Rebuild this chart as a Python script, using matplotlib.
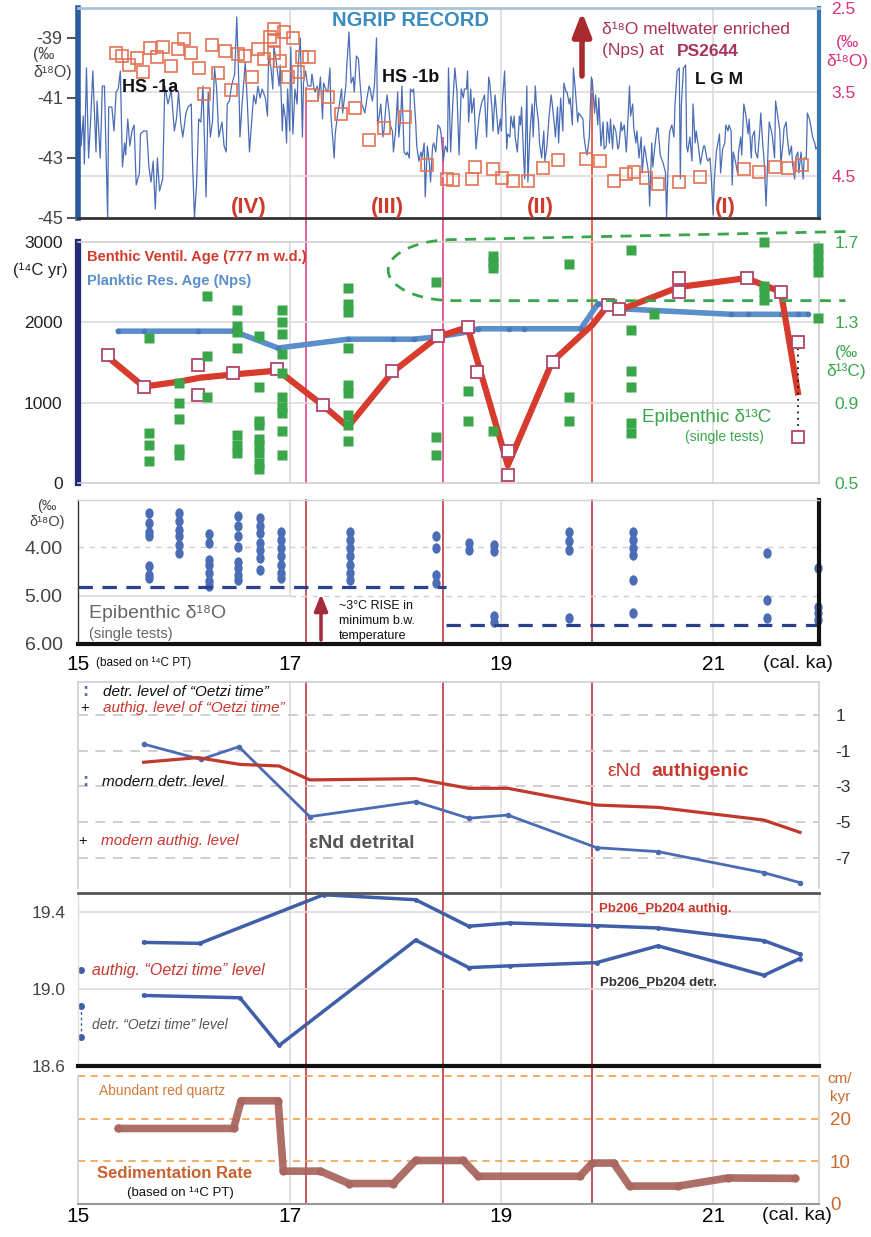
import matplotlib
matplotlib.use("Agg")
import numpy as np
import matplotlib.pyplot as plt
from matplotlib.lines import Line2D
from matplotlib.path import Path
from matplotlib.patches import PathPatch
from matplotlib.transforms import blended_transform_factory

plt.rcParams['font.family'] = ['Liberation Sans', 'DejaVu Sans']
plt.rcParams['axes.unicode_minus'] = False

# ---------------------------------------------------------------- data
# NGRIP d18O (age ka, permil)
ngrip = [(15.02,-41.6),(15.03,-42.6),(15.05,-41.6),(15.06,-43.2),(15.08,-40.0),(15.10,-43.0),(15.12,-41.7),(15.14,-40.1),
 (15.17,-42.8),(15.18,-41.1),(15.21,-43.0),(15.23,-40.6),(15.25,-40.6),(15.28,-45.0),(15.29,-41.3),(15.32,-41.3),(15.34,-42.1),
 (15.36,-40.8),(15.38,-40.7),(15.40,-40.1),(15.42,-43.3),(15.44,-42.5),(15.45,-42.9),(15.47,-41.7),(15.49,-42.6),(15.51,-42.1),
 (15.53,-41.9),(15.55,-43.9),(15.58,-43.5),(15.59,-42.2),(15.62,-42.1),(15.65,-42.1),(15.67,-43.3),(15.69,-43.8),(15.71,-43.1),
 (15.73,-44.7),(15.75,-43.0),(15.77,-44.1),(15.80,-43.7),(15.82,-40.6),(15.85,-41.2),(15.87,-40.9),(15.88,-40.7),(15.91,-42.1),
 (15.93,-41.7),(15.95,-40.8),(15.97,-41.8),(15.99,-42.3),(16.02,-41.5),(16.04,-41.3),(16.07,-41.2),(16.08,-42.9),(16.10,-45.0),
 (16.12,-43.9),(16.14,-41.7),(16.16,-41.8),(16.18,-40.6),(16.21,-44.3),(16.23,-40.8),(16.25,-42.3),(16.27,-41.8),(16.29,-40.0),
 (16.31,-40.7),(16.33,-42.3),(16.36,-41.8),(16.38,-42.6),(16.40,-42.8),(16.41,-41.2),(16.43,-41.1),(16.45,-40.6),(16.48,-40.2),
 (16.50,-38.3),(16.52,-40.6),(16.53,-42.3),(16.55,-41.2),(16.58,-39.8),(16.60,-41.2),(16.62,-42.8),(16.64,-41.8),(16.66,-40.9),
 (16.68,-41.2),(16.70,-40.6),(16.72,-41.0),(16.74,-40.7),(16.77,-41.0),
 (16.79,-41.6),(16.80,-39.6),(16.82,-39.9),(16.84,-40.7),(16.85,-39.3),(16.87,-39.7),(16.90,-40.6),(16.91,-39.9),(16.93,-42.1),
 (16.94,-41.2),(16.96,-41.7),(16.97,-42.5),(16.98,-40.7),(17.00,-42.1),(17.01,-39.3),(17.03,-42.2),(17.05,-40.7),(17.07,-41.2),
 (17.08,-39.9),(17.10,-39.0),(17.12,-42.3),(17.13,-40.5),(17.15,-40.1),(17.17,-40.6),(17.20,-40.6),(17.21,-40.2),(17.23,-40.7),
 (17.24,-40.8),(17.26,-40.6),(17.27,-41.1),(17.29,-40.3),(17.31,-41.7),(17.32,-40.5),(17.34,-40.7),(17.36,-40.8),(17.38,-40.0),
 (17.39,-41.6),(17.42,-43.0),(17.43,-42.2),(17.45,-41.6),(17.47,-41.2),(17.49,-40.7),(17.50,-41.5),(17.53,-40.6),(17.54,-39.9),
 (17.56,-38.8),(17.58,-40.5),(17.60,-40.3),(17.61,-40.8),(17.63,-39.6),(17.65,-39.7),(17.66,-40.3),(17.68,-41.2),(17.69,-41.3),
 (17.71,-41.5),(17.73,-41.0),(17.75,-40.6),(17.76,-40.7),(17.78,-41.1),(17.80,-40.6),(17.82,-39.0),(17.83,-41.9),(17.85,-41.5),
 (17.86,-41.2),(17.88,-42.3),(17.89,-42.1),(17.91,-41.2),(17.92,-40.9),(17.94,-41.5),(17.95,-41.9),(17.97,-42.1),(17.98,-42.8),
 (18.00,-42.1),(18.02,-40.8),(18.03,-42.3),(18.05,-41.6),(18.06,-40.6),(18.08,-42.8),(18.10,-42.9),(18.11,-42.8),(18.13,-43.0),
 (18.14,-40.7),(18.16,-40.8),(18.17,-40.7),(18.19,-41.8),(18.20,-42.6),(18.22,-43.1),(18.24,-42.8),(18.25,-43.0),(18.27,-42.5),
 (18.28,-44.3),(18.30,-42.6),(18.32,-43.2),(18.33,-43.8),(18.35,-42.6),(18.36,-42.5),(18.38,-42.8),(18.40,-41.9),(18.42,-42.0),
 (18.43,-42.2),(18.45,-43.1),(18.47,-42.6),(18.49,-42.8),
 (18.50,-40.0),(18.52,-42.8),(18.54,-41.2),(18.56,-40.0),(18.58,-40.8),(18.59,-41.9),(18.60,-42.9),(18.62,-40.7),(18.64,-41.0),
 (18.65,-40.7),(18.67,-40.7),(18.68,-40.1),(18.69,-41.8),(18.71,-40.7),(18.72,-41.5),(18.74,-41.0),(18.76,-42.7),(18.77,-42.3),
 (18.79,-41.6),(18.81,-41.2),(18.83,-41.0),(18.84,-40.9),(18.86,-42.3),(18.88,-40.3),(18.89,-40.5),(18.91,-41.3),(18.92,-42.1),
 (18.94,-40.9),(18.95,-41.3),(18.97,-42.2),(18.99,-41.7),(19.00,-42.1),(19.01,-41.1),(19.03,-40.1),(19.05,-42.7),(19.06,-42.2),
 (19.08,-42.3),(19.09,-41.6),(19.11,-42.0),(19.12,-41.6),(19.13,-42.3),(19.15,-42.8),(19.17,-41.6),(19.18,-41.9),(19.19,-41.3),
 (19.21,-43.0),(19.22,-43.7),(19.24,-40.6),(19.25,-43.8),(19.27,-42.1),(19.29,-41.2),(19.30,-42.3),(19.32,-40.6),(19.33,-41.2),
 (19.35,-41.8),(19.36,-42.5),(19.38,-43.0),(19.40,-42.1),(19.41,-43.1),(19.43,-42.6),(19.45,-41.6),(19.47,-40.9),(19.48,-41.2),
 (19.50,-41.9),(19.51,-42.3),(19.53,-41.3),(19.54,-42.5),(19.56,-41.0),(19.58,-42.1),(19.59,-40.5),(19.61,-40.8),(19.62,-40.8),
 (19.64,-41.2),(19.65,-41.0),(19.67,-41.9),(19.68,-40.0),(19.70,-40.8),(19.72,-41.8),(19.73,-41.5),(19.75,-41.6),(19.77,-41.7),
 (19.78,-42.3),(19.80,-42.8),(19.81,-42.9),(19.83,-42.3),(19.85,-40.3),(19.86,-40.5),(19.88,-41.5),(19.89,-40.9),(19.91,-41.9),
 (19.92,-41.0),(19.94,-42.6),(19.96,-41.8),(19.97,-42.7),(19.99,-42.6),(20.00,-41.8),(20.02,-42.5),(20.03,-41.7),(20.05,-42.7),
 (20.06,-41.9),(20.08,-42.1),(20.10,-42.7),(20.11,-42.6),(20.13,-41.8),(20.14,-42.1),(20.16,-41.9),(20.18,-42.8),(20.19,-42.1),
 (20.21,-40.6),(20.22,-41.6),
 (20.24,-41.2),(20.25,-42.0),(20.27,-42.5),(20.28,-42.1),(20.30,-43.0),(20.32,-42.3),(20.33,-43.5),(20.35,-42.6),(20.36,-42.8),
 (20.39,-43.5),(20.40,-44.6),(20.42,-42.5),(20.43,-43.3),(20.45,-42.6),(20.47,-42.0),(20.48,-42.0),(20.50,-42.9),(20.52,-43.1),
 (20.53,-43.2),(20.55,-43.5),(20.56,-45.0),(20.58,-42.6),(20.59,-42.1),(20.61,-41.9),(20.63,-42.3),(20.64,-41.2),(20.66,-40.1),
 (20.68,-40.0),(20.69,-43.7),(20.70,-41.2),(20.72,-40.0),(20.74,-39.9),(20.75,-42.6),(20.76,-42.8),(20.78,-42.3),(20.80,-43.1),
 (20.81,-41.2),(20.83,-42.5),(20.84,-42.1),(20.86,-42.6),(20.88,-43.2),(20.89,-43.0),(20.91,-42.6),(20.92,-42.6),(20.94,-43.0),
 (20.95,-43.1),(20.97,-43.0),(20.98,-43.5),(21.00,-44.9),(21.01,-43.8),(21.03,-42.8),(21.04,-42.6),(21.06,-42.2),(21.07,-43.5),
 (21.09,-42.7),(21.11,-42.5),(21.12,-41.9),(21.14,-42.1),(21.15,-41.9),(21.17,-42.1),(21.18,-43.9),(21.19,-42.8),(21.21,-43.1),
 (21.23,-43.5),(21.24,-42.8),(21.26,-42.3),(21.27,-42.9),(21.29,-41.2),(21.31,-41.6),(21.33,-42.2),(21.34,-41.7),(21.36,-43.0),
 (21.37,-42.3),(21.39,-42.1),(21.40,-42.8),(21.42,-43.0),(21.44,-42.1),(21.45,-41.5),(21.47,-42.6),(21.48,-43.0),(21.50,-44.6),
 (21.52,-42.6),(21.53,-41.8),(21.55,-42.1),(21.56,-42.3),(21.58,-43.0),(21.59,-41.1),(21.61,-41.6),(21.63,-42.1),(21.64,-43.2),
 (21.66,-42.5),(21.67,-42.0),(21.69,-41.8),(21.70,-42.3),(21.72,-42.9),(21.74,-42.6),(21.75,-43.2),(21.77,-43.7),(21.78,-43.0),
 (21.80,-42.8),(21.81,-43.5),(21.83,-42.8),(21.85,-43.7),(21.86,-43.0),(21.88,-43.0),(21.89,-41.5),(21.91,-41.7),(21.93,-42.1),
 (21.94,-42.3),(21.96,-42.5),(21.97,-42.7),(21.99,-42.6)]

# PS2644 planktic (Nps) d18O
ps_age = [15.36,15.42,15.48,15.56,15.61,15.68,15.75,15.80,15.88,15.94,16.00,16.07,16.14,16.19,16.27,16.32,16.39,16.45,
          16.51,16.58,16.64,16.70,16.76,16.81,16.85,16.85,16.85,16.91,16.95,16.98,17.03,17.08,17.12,17.18,17.21,17.36,
          17.48,17.62,17.75,17.89,18.09,18.30,18.49,18.54,18.72,18.75,18.92,19.01,19.11,19.25,19.39,19.53,19.80,19.93,
          20.06,20.18,20.25,20.37,20.48,20.68,20.88,21.29,21.43,21.58,21.71,21.84]
ps_d18o = [3.04,3.07,3.18,3.10,3.26,2.98,3.08,2.96,3.19,2.99,2.87,3.04,3.21,3.52,2.94,3.27,3.01,3.48,
           3.05,3.07,3.32,2.99,3.11,2.85,2.75,2.88,3.04,3.13,2.79,3.32,2.86,3.26,3.08,3.08,3.54,3.56,
           3.76,3.69,4.07,3.93,3.80,4.37,4.54,4.55,4.54,4.39,4.42,4.52,4.56,4.56,4.40,4.31,4.30,4.32,
           4.56,4.48,4.45,4.52,4.60,4.57,4.51,4.42,4.45,4.39,4.40,4.37]

# Planktic reservoir age and benthic ventilation age (14C yr)
plank_age = [15.38,15.62,16.13,16.47,16.89,17.55,17.98,18.17,18.40,18.68,18.78,19.07,19.21,19.75,19.91,20.03,20.11,
             21.17,21.33,21.64,21.80,21.90]
plank_res = [1890,1890,1890,1890,1680,1790,1790,1790,1820,1880,1920,1920,1920,1920,2230,2220,2170,2100,2100,2100,2100,2100]
benth_age = [15.28,15.62,15.95,16.15,16.46,16.89,17.31,17.55,17.97,18.40,18.68,19.06,19.48,19.86,20.01,20.11,20.68,
             21.31,21.64,21.80]
benth_vent = [1570,1200,1260,1310,1350,1400,970,700,1380,1820,1940,220,1510,1970,2220,2150,2440,2550,2380,1130]
benth_sq_age = [15.28,15.62,16.13,16.13,16.46,16.88,17.31,17.97,18.40,18.68,18.77,19.06,19.06,19.49,20.01,20.11,
                20.68,20.68,21.32,21.64,21.80,21.80]
benth_sq = [1594,1195,1469,1096,1370,1419,971,1394,1830,1942,1382,398,100,1506,2216,2166,2552,2378,2552,2378,1755,573]

# Epibenthic single tests
epi13_age = [15.67,15.95,16.22,16.50,16.71,16.93,17.55,18.38,18.68,18.92,19.64,20.22,20.44,21.48,21.99]
epi_d13c = [[1.22,0.75,0.69,0.61],[1.00,0.90,0.82,0.67,0.64],[1.43,1.13,0.93],
            [1.36,1.28,1.25,1.17,0.74,0.69,0.65],[1.23,0.98,0.81,0.79,0.72,0.69,0.65,0.60,0.57],
            [1.36,1.30,1.24,1.14,1.05,0.93,0.88,0.85,0.76,0.64],[1.47,1.39,1.35,1.17,0.99,0.95,0.84,0.79,0.71],
            [1.50,0.73,0.64],[0.96,0.81],[1.63,1.60,1.57,0.76],[1.59,0.93,0.81],[1.66,1.26,1.06,0.98,0.80,0.75],
            [1.34],[1.70,1.48,1.45,1.41],[1.67,1.63,1.59,1.55,1.32]]
epi18_age = [15.67,15.95,16.24,16.51,16.72,16.92,17.57,18.38,18.69,18.93,19.64,20.24,21.51,21.99]
epi_d18o = [[3.30,3.50,3.68,3.78,4.40,4.57,4.64],[3.30,3.47,3.64,3.78,3.95,4.12],[3.74,3.92,4.26,4.37,4.54,4.71,4.81],
            [3.37,3.57,3.78,3.99,4.30,4.43,4.57,4.68],[3.40,3.57,3.71,3.92,4.06,4.23,4.47],
            [3.68,3.85,4.02,4.19,4.37,4.54,4.64],[3.68,3.85,4.02,4.19,4.37,4.54,4.68],[3.78,4.02,4.57,4.74],
            [3.92,4.06],[3.95,4.09,5.43,5.54],[3.68,3.88,4.06,5.47],[3.68,3.85,4.02,4.16,4.68,5.37],
            [4.12,5.09,5.47],[4.43,5.23,5.37,5.50]]
min_d18o_levels = [(15.0, 18.48, 4.83), (18.48, 22.0, 5.61)]

# eNd
end_age = [15.62,16.16,16.52,17.19,18.19,18.69,19.06,19.90,20.48,21.48,21.82]
end_detr = [-0.63,-1.49,-0.78,-4.70,-3.86,-4.79,-4.61,-6.44,-6.66,-7.84,-8.40]
end_auth_age = [15.62,16.13,16.53,16.90,17.19,18.19,18.69,19.06,19.90,20.48,21.48,21.82]
end_auth = [-1.65,-1.39,-1.77,-1.86,-2.64,-2.57,-3.11,-3.11,-4.05,-4.18,-4.89,-5.58]

# Pb206/Pb204
pb_auth_age = [15.62,16.15,17.32,18.19,18.69,19.08,19.90,20.48,21.48,21.82]
pb_auth = [19.243,19.238,19.491,19.465,19.327,19.344,19.330,19.318,19.252,19.182]
pb_detr_age = [15.62,16.53,16.90,18.19,18.69,19.08,19.90,20.48,21.48,21.82]
pb_detr = [18.967,18.955,18.707,19.255,19.112,19.121,19.138,19.225,19.072,19.159]
oetzi_age = 15.03
oetzi_pb_auth = 19.10
oetzi_pb_detr = [18.91, 18.75]

# Sedimentation rate (cm/kyr)
sed_age = [15.38,16.47,16.54,16.89,16.94,17.29,17.56,17.98,18.19,18.64,18.78,19.74,19.86,20.06,20.21,20.67,21.14,21.77]
sed_rate = [17.7,17.7,24.2,24.2,7.7,7.7,4.8,4.8,10.2,10.2,6.5,6.5,9.6,9.6,4.2,4.2,6.1,6.0]

events = [17.15, 18.45, 19.86]

# ---------------------------------------------------------------- layout helpers
FW, FH = 871.0, 1237.0
GRID = '#dcdcdc'
fig = plt.figure(figsize=(FW / 100, FH / 100), dpi=100)


def panel(top, bot, grid=(17, 19, 21)):
    ax = fig.add_axes([78 / FW, 1 - bot / FH, 741 / FW, (bot - top) / FH])
    ax.set_facecolor('none')
    ax.set_xlim(15, 22)
    ax.set_xticks([])
    for g in grid:
        ax.axvline(g, color=GRID, lw=1.2, zorder=0)
    return ax


def spines(ax, **spec):
    for side, sty in spec.items():
        if sty is None:
            ax.spines[side].set_visible(False)
        else:
            ax.spines[side].set_color(sty[0])
            ax.spines[side].set_linewidth(sty[1])


def txt(x, y, s, **kw):
    kw.setdefault('va', 'center')
    fig.text(x / FW, 1 - y / FH, s, **kw)


def arrow(x, y0, y1, color, lw, hw, hl):
    fig.add_artist(plt.matplotlib.patches.FancyArrowPatch(
        (x / FW, 1 - y0 / FH), (x / FW, 1 - y1 / FH), transform=fig.transFigure,
        arrowstyle='-|>,head_width=%s,head_length=%s' % (hw, hl), mutation_scale=10,
        color=color, lw=lw, shrinkA=0, shrinkB=0))


# ---------------------------------------------------------------- panel 1: NGRIP
ax1 = panel(8, 218)
ax1.set_ylim(-45, -38)
for r in (3.5, 4.5):
    ax1.axhline(-38 - (r - 2.5) * 2.8, color=GRID, lw=1.2, zorder=0)
ax1.plot([p[0] for p in ngrip], [p[1] for p in ngrip], color='#4a6db5', lw=0.9)
ax1.set_yticks([-45, -43, -41, -39])
ax1.tick_params(axis='y', length=8, width=1.2, color='#333', labelsize=13, labelcolor='#444', pad=3)
spines(ax1, left=('#2b5b9b', 4), right=('#3b77b4', 3), top=('#a7c4d6', 2), bottom=('#333333', 2))
ax1r = ax1.twinx()
ax1r.set_ylim(5.0, 2.5)
ax1r.set_yticks([2.5, 3.5, 4.5])
ax1r.tick_params(axis='y', length=0, pad=9, labelsize=12.5, labelcolor='#d6307a')
for s in ax1r.spines.values():
    s.set_visible(False)
ax1r.plot(ps_age, ps_d18o, 's', ms=8, mfc='none', mec='#e27456', mew=1.2)

txt(33, 64, '(‰\nδ¹⁸O)', color='#444', fontsize=11.5, linespacing=1.25)
txt(847, 52, '(‰\nδ¹⁸O)', color='#d6307a', fontsize=12.5, ha='center', linespacing=1.25)
txt(410, 20, 'NGRIP RECORD', ha='center', color='#3a8bbf', fontsize=14.5, fontweight='bold')
txt(122, 87, 'HS -1a', fontsize=13, fontweight='bold', color='#111')
txt(382, 78, 'HS -1b', fontsize=13, fontweight='bold', color='#111')
txt(695, 80, 'L G M', fontsize=12.5, fontweight='bold', color='#111')
for lab, x in (('(IV)', 249), ('(III)', 387), ('(II)', 540), ('(I)', 725)):
    txt(x, 208, lab, ha='center', color='#cc3b2b', fontsize=16, fontweight='bold')
arrow(582, 76, 12, '#a82a2e', 4, 0.55, 1.4)
txt(602, 30, 'δ¹⁸O meltwater enriched', color='#a8325e', fontsize=12.5)
txt(602, 51, '(Nps) at', color='#a8325e', fontsize=12.5)
txt(677, 51, 'PS2644', color='#a8325e', fontsize=12.5, fontweight='bold')

# ---------------------------------------------------------------- panel 2: ventilation ages
ax2 = panel(242, 483)
ax2.set_ylim(0, 3000)
for v in (1000, 2000):
    ax2.axhline(v, color=GRID, lw=1.2, zorder=0)
ax2.set_yticks([0, 1000, 2000, 3000])
ax2.tick_params(axis='y', length=0, pad=11, labelsize=12.5, labelcolor='#222')
spines(ax2, left=('#232a78', 4.5), right=('#cfcfcf', 1.2), top=('#cfcfcf', 1.2), bottom=('#cfcfcf', 1.2))
ax2.plot(plank_age, plank_res, color='#5b8fcc', lw=4, solid_capstyle='round', zorder=2,
         marker='o', ms=4, mfc='#4a7abb', mec='none')
ax2.plot(benth_age, benth_vent, color='#d63b2b', lw=4.5, solid_joinstyle='round', zorder=3)
ax2.plot(benth_sq_age[-2:], benth_sq[-2:], ls=(0, (1, 2.5)), color='#111', lw=1.3, zorder=3)
ax2.plot(benth_sq_age, benth_sq, 's', ms=8, mfc='white', mec='#b2446a', mew=1.3, zorder=4)

# dashed envelope around the LGM d13C values
t = np.linspace(np.pi / 2, 3 * np.pi / 2, 40)
cap = np.column_stack([18.55 + 0.62 * np.cos(t), 2650 + 380 * np.sin(t)])
env = np.vstack([[22.25, 3130], cap, [22.25, 2270]])
ax2.add_patch(PathPatch(Path(env), fill=False, ec='#3aa64a', lw=2, ls=(0, (4, 3)), clip_on=False, zorder=5))

ax2r = ax2.twinx()
ax2r.set_ylim(0.5, 1.7)
ax2r.set_yticks([0.5, 0.9, 1.3, 1.7])
ax2r.tick_params(axis='y', length=0, pad=11, labelsize=12.5, labelcolor='#3aa64a')
for s in ax2r.spines.values():
    s.set_visible(False)
for a, vals in zip(epi13_age, epi_d13c):
    ax2r.plot([a] * len(vals), vals, 's', ms=7, color='#3aa64a', mec='none', clip_on=False)

txt(87, 257, 'Benthic Ventil. Age (777 m w.d.)', color='#d23b2c', fontsize=10.5, fontweight='bold')
txt(87, 281, 'Planktic Res. Age (Nps)', color='#5a8fcb', fontsize=10.5, fontweight='bold')
txt(13, 270, '(¹⁴C yr)', color='#222', fontsize=12)
txt(846, 362, '(‰\nδ¹³C)', color='#3aa64a', fontsize=12.5, ha='center', linespacing=1.25)
txt(642, 417, 'Epibenthic δ¹³C', color='#3aa64a', fontsize=13.5)
txt(724, 437, '(single tests)', color='#3aa64a', fontsize=10, ha='center')

# ---------------------------------------------------------------- panel 3: epibenthic d18O
ax3 = panel(500, 644, grid=(19, 21))
ax3.set_ylim(6.0, 3.03)
ax3.axvline(17, ymin=1 / 2.97, ymax=1, color=GRID, lw=1.2, zorder=0)
ax3.axhline(5.0, xmin=0, xmax=2 / 7, color=GRID, lw=1.2, zorder=0)
ax3.axhline(5.0, xmin=2 / 7, xmax=1, color='#cfcfcf', lw=1, ls=(0, (4, 4)), zorder=0)
ax3.axhline(4.0, color='#cfcfcf', lw=1, ls=(0, (4, 4)), zorder=0)
ell = Path.unit_circle().transformed(plt.matplotlib.transforms.Affine2D().scale(0.8, 1.0))
for a, vals in zip(epi18_age, epi_d18o):
    ax3.plot([a] * len(vals), vals, ls='none', marker=ell, ms=7.5, color='#4a6db5', mec='none', clip_on=False)
for x0, x1, lev in min_d18o_levels:
    ax3.plot([x0, x1], [lev, lev], color='#2b4190', lw=2.3, ls=(0, (4.5, 3)))
ax3.set_yticks([4, 5, 6])
ax3.set_yticklabels(['4.00', '5.00', '6.00'])
ax3.tick_params(axis='y', length=0, pad=11, labelsize=14, labelcolor='#444')
ax3.set_xticks([15, 17, 19, 21])
ax3.tick_params(axis='x', length=0, pad=8, labelsize=15)
spines(ax3, left=('#333333', 1), right=('#111111', 3), top=('#cfcfcf', 1), bottom=('#111111', 3))
txt(47, 514, '(‰\nδ¹⁸O)', color='#444', fontsize=10.5, ha='center', linespacing=1.2)
txt(89, 613, 'Epibenthic δ¹⁸O', color='#666', fontsize=14)
txt(89, 634, '(single tests)', color='#666', fontsize=10.5)
txt(339, 621, '~3°C RISE in\nminimum b.w.\ntemperature', fontsize=9, linespacing=1.35, color='#111')
arrow(321, 640, 594, '#a32a3a', 2.5, 0.4, 1.0)
txt(96, 663, '(based on ¹⁴C PT)', fontsize=8.5, color='#111')
txt(798, 663, '(cal. ka)', fontsize=14, ha='center', color='#111')

# ---------------------------------------------------------------- panel 4: eNd
ax4 = panel(682, 888)
ax4.set_ylim(-8.7, 2.85)
for v in (1, -1, -3, -5, -7):
    ax4.axhline(v, color='#cfcfcf', lw=1.4, ls=(0, (5, 4)), zorder=0)
ax4.plot(end_age, end_detr, color='#4a6cb3', lw=2, marker='o', ms=3)
ax4.plot(end_auth_age, end_auth, color='#c0392b', lw=2.3)
ax4.yaxis.tick_right()
ax4.set_yticks([1, -1, -3, -5, -7])
ax4.tick_params(axis='y', length=0, pad=12, labelsize=12.5, labelcolor='#333')
spines(ax4, left=('#d0d0d0', 1.2), right=('#d0d0d0', 1.2), top=('#d0d0d0', 1.2), bottom=None)
txt(85, 692, ':', color='#4a6cb3', fontsize=13, fontweight='bold', ha='center')
txt(103, 692, 'detr. level of “Oetzi time”', style='italic', fontsize=11, color='#111')
txt(85, 708, '+', fontsize=10.5, ha='center', color='#111')
txt(103, 708, 'authig. level of “Oetzi time”', style='italic', fontsize=11, color='#c8372d')
txt(85, 782, ':', color='#4a6cb3', fontsize=13, fontweight='bold', ha='center')
txt(102, 782, 'modern detr. level', style='italic', fontsize=11, color='#111')
txt(83, 841, '+', fontsize=10.5, ha='center', color='#111')
txt(101, 841, 'modern authig. level', style='italic', fontsize=11, color='#c8372d')
txt(309, 843, 'εNd detrital', fontsize=14, fontweight='bold', color='#555')
txt(607, 772, 'εNd', fontsize=14, color='#c8372d')
txt(651, 772, 'authigenic', fontsize=14, fontweight='bold', color='#c8372d')

# ---------------------------------------------------------------- panel 5: Pb isotopes
ax5 = panel(893, 1066)
ax5.set_ylim(18.6, 19.5)
for v in (19.0, 19.4):
    ax5.axhline(v, color=GRID, lw=1.2, zorder=0)
ax5.plot(pb_auth_age, pb_auth, color='#3f5fa8', lw=2.5, marker='o', ms=2.5)
ax5.plot(pb_detr_age, pb_detr, color='#3f5fa8', lw=2.5, marker='o', ms=2.5)
ax5.plot([oetzi_age], [oetzi_pb_auth], 'o', ms=4, color='#3f5fa8', clip_on=False)
ax5.plot([oetzi_age] * 2, oetzi_pb_detr, color='#3f5fa8', lw=1, ls=(0, (2, 2)), marker='o', ms=4, clip_on=False)
ax5.set_yticks([18.6, 19.0, 19.4])
ax5.set_yticklabels(['18.6', '19.0', '19.4'])
ax5.tick_params(axis='y', length=0, pad=9, labelsize=12.5, labelcolor='#444')
spines(ax5, left=('#e0e0e0', 1), right=('#e0e0e0', 1), top=('#555555', 2), bottom=('#111111', 3))
txt(599, 909, 'Pb206_Pb204 authig.', fontsize=9.5, fontweight='bold', color='#c8372d')
txt(600, 983, 'Pb206_Pb204 detr.', fontsize=9.5, fontweight='bold', color='#333')
txt(92, 970, 'authig. “Oetzi time” level', style='italic', fontsize=11.5, color='#c8372d')
txt(92, 1025, 'detr. “Oetzi time” level', style='italic', fontsize=10, color='#555')

# ---------------------------------------------------------------- panel 6: sedimentation rate
ax6 = panel(1076, 1204)
ax6.set_ylim(0, 30)
for v in (10, 20, 30):
    ax6.axhline(v, color='#f2a65a', lw=1.3, ls=(0, (4, 3)), zorder=0, clip_on=False)
ax6.plot(sed_age, sed_rate, color='#a9675f', lw=5.5, solid_capstyle='round', solid_joinstyle='round',
         marker='o', ms=5, alpha=0.95)
ax6.yaxis.tick_right()
ax6.set_yticks([0, 10, 20])
ax6.tick_params(axis='y', length=0, pad=8, labelsize=13.5, labelcolor='#cc6a2c')
ax6.set_xticks([15, 17, 19, 21])
ax6.tick_params(axis='x', length=0, pad=2, labelsize=15)
spines(ax6, left=('#d0d0d0', 1.2), right=('#d0d0d0', 1.2), top=None, bottom=('#999999', 1.5))
txt(840, 1088, 'cm/\nkyr', color='#cc6a2c', fontsize=11, ha='center', linespacing=1.3)
txt(99, 1091, 'Abundant red quartz', color='#d07a3a', fontsize=10)
txt(97, 1173, 'Sedimentation Rate', color='#c9602e', fontsize=12, fontweight='bold')
txt(127, 1193, '(based on ¹⁴C PT)', fontsize=9.5, color='#111')
txt(797, 1215, '(cal. ka)', fontsize=14, ha='center', color='#111')

# ---------------------------------------------------------------- event lines across panels
evx = blended_transform_factory(ax1.transData, fig.transFigure)
for ka, top, col in zip(events, (88, 138, 80), ('#e2508c', '#e2508c', '#e8543c')):
    fig.add_artist(Line2D([ka, ka], [1 - top / FH, 1 - 483 / FH], transform=evx, color=col, lw=1.3, zorder=-1))
    for y0, y1 in ((500, 644), (682, 1204)):
        fig.add_artist(Line2D([ka, ka], [1 - y0 / FH, 1 - y1 / FH], transform=evx,
                              color='#b8262c', lw=1.1, zorder=-1))

fig.savefig('out.png', dpi=100)
